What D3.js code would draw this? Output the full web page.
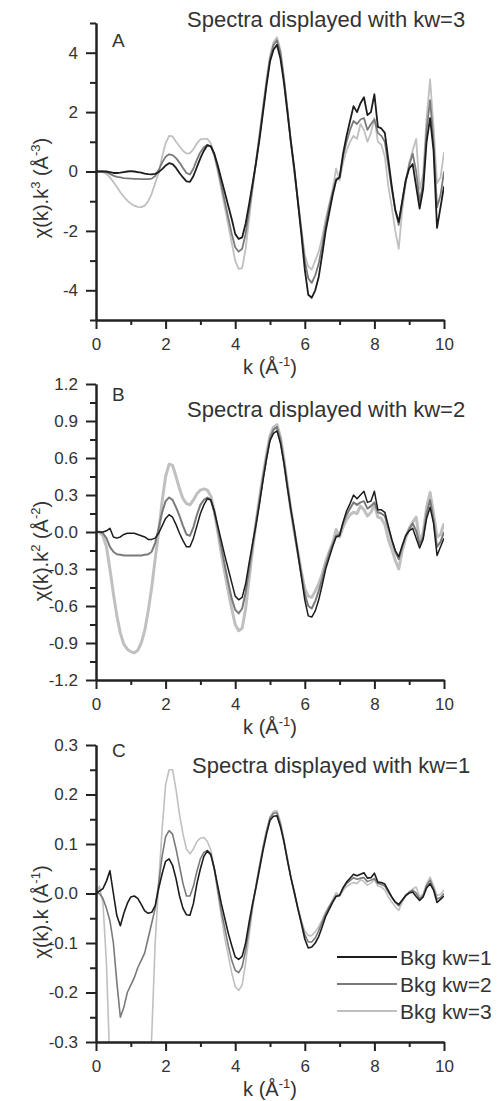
<!DOCTYPE html>
<html>
<head>
<meta charset="utf-8">
<script src="https://cdn.jsdelivr.net/npm/d3@7"></script>
<style>
  body { margin: 0; background: #fff; }
  svg text { font-family: "Liberation Sans", Arial, sans-serif; fill: #333; }
</style>
</head>
<body>
<svg id="chart" width="497" height="1101"></svg>
<script>
// Photoelectron wave number grid, k (Å^-1)
const kGrid = [
  0.0,0.1,0.2,0.3,0.4,0.5,0.6,0.7,0.8,0.9,
  1.0,1.1,1.2,1.3,1.4,1.5,1.6,1.7,1.8,1.9,
  2.0,2.1,2.2,2.3,2.4,2.5,2.6,2.7,2.8,2.9,
  3.0,3.1,3.2,3.3,3.4,3.5,3.6,3.7,3.8,3.9,
  4.0,4.1,4.2,4.3,4.4,4.5,4.6,4.7,4.8,4.9,
  5.0,5.1,5.2,5.3,5.4,5.5,5.6,5.7,5.8,5.9,
  6.0,6.1,6.2,6.3,6.4,6.5,6.6,6.7,6.8,6.9,
  7.0,7.1,7.2,7.3,7.4,7.5,7.6,7.7,7.8,7.9,
  8.0,8.1,8.2,8.3,8.4,8.5,8.6,8.7,8.8,8.9,
  9.0,9.1,9.2,9.3,9.4,9.5,9.6,9.7,9.8,9.9,
  10.0
];

// chi(k)*k^3, background removed with kw = 1, 2, 3
const k3Bkg1 = [
  0,0,0,0,-0.02,-0.05,-0.05,-0.04,-0.02,0,
  0.01,0,-0.02,-0.04,-0.07,-0.09,-0.1,-0.08,-0.02,0.08,
  0.2,0.28,0.25,0.12,-0.05,-0.2,-0.33,-0.35,-0.15,0.15,
  0.45,0.7,0.88,0.85,0.6,0.2,-0.25,-0.7,-1.15,-1.6,
  -2.1,-2.27,-2.22,-1.75,-1.1,-0.4,0.3,1.1,2.0,2.9,
  3.7,4.1,4.27,3.8,3.0,2.0,1.0,0.1,-1.0,-2.1,
  -3.3,-4.15,-4.25,-4.0,-3.55,-2.8,-2.0,-1.4,-0.8,-0.3,
  -0.2,0.6,1.2,1.7,2.2,2.0,2.3,2.5,1.9,2.0,
  2.6,1.5,1.45,1.3,0.4,-0.5,-1.3,-1.7,-1.0,-0.3,
  0.1,0.25,-0.5,-1.25,-0.6,1.0,1.8,0.7,-1.9,-1.2,
  -0.5
];
const k3Bkg2 = [
  0,0,0,-0.02,-0.08,-0.14,-0.18,-0.2,-0.22,-0.23,
  -0.24,-0.25,-0.25,-0.26,-0.26,-0.26,-0.24,-0.15,0.05,0.3,
  0.5,0.58,0.55,0.45,0.3,0.12,-0.05,-0.1,0.1,0.4,
  0.65,0.82,0.9,0.85,0.55,0.1,-0.45,-1.0,-1.55,-2.1,
  -2.55,-2.7,-2.6,-2.1,-1.3,-0.5,0.35,1.2,2.1,3.0,
  3.8,4.25,4.42,4.0,3.1,2.1,1.0,0.0,-1.0,-2.0,
  -3.0,-3.6,-3.75,-3.5,-3.1,-2.5,-1.8,-1.2,-0.7,-0.25,
  -0.2,0.5,1.0,1.4,1.7,1.6,1.75,1.8,1.4,1.6,
  1.75,1.3,1.2,1.0,0.2,-0.6,-1.3,-1.8,-1.0,-0.3,
  0.2,0.6,0.0,-1.0,-0.4,1.4,2.4,1.0,-1.2,-0.8,
  0.0
];
const k3Bkg3 = [
  0,0,-0.02,-0.08,-0.2,-0.35,-0.52,-0.7,-0.85,-0.98,
  -1.08,-1.15,-1.19,-1.2,-1.15,-1.0,-0.75,-0.4,-0.05,0.5,
  0.95,1.2,1.18,1.0,0.85,0.7,0.6,0.62,0.75,0.95,
  1.08,1.1,1.1,0.95,0.55,0.0,-0.6,-1.2,-1.8,-2.4,
  -3.0,-3.28,-3.25,-2.6,-1.6,-0.6,0.35,1.3,2.2,3.1,
  3.9,4.35,4.52,4.1,3.2,2.1,1.0,0.0,-0.95,-1.9,
  -2.8,-3.2,-3.3,-3.0,-2.7,-2.2,-1.6,-1.1,-0.6,0.1,
  -0.3,0.3,0.7,1.0,1.2,1.1,1.6,1.4,1.0,1.3,
  1.8,1.0,0.9,0.5,-0.5,-1.2,-2.0,-2.6,-1.3,-0.4,
  0.3,0.7,1.1,-0.6,-0.1,1.8,3.1,1.5,-0.4,-0.2,
  0.65
];

// chi(k)*k^2
const k2Bkg1 = [
  0,0,0,0.01,0.03,-0.04,-0.05,-0.04,-0.02,-0.01,
  -0.01,-0.01,-0.02,-0.03,-0.04,-0.06,-0.06,-0.05,-0.01,0.05,
  0.11,0.14,0.12,0.06,-0.01,-0.07,-0.12,-0.12,-0.05,0.05,
  0.15,0.22,0.27,0.26,0.17,0.05,-0.07,-0.19,-0.3,-0.41,
  -0.52,-0.55,-0.53,-0.42,-0.25,-0.09,0.06,0.23,0.42,0.59,
  0.74,0.8,0.82,0.72,0.56,0.36,0.18,0.02,-0.17,-0.36,
  -0.55,-0.68,-0.69,-0.64,-0.55,-0.43,-0.3,-0.21,-0.12,-0.04,
  -0.03,0.08,0.17,0.23,0.3,0.27,0.3,0.33,0.24,0.25,
  0.33,0.18,0.18,0.16,0.05,-0.06,-0.15,-0.2,-0.11,-0.03,
  0.01,0.03,-0.05,-0.13,-0.06,0.11,0.2,0.07,-0.19,-0.12,
  -0.05
];
const k2Bkg2 = [
  0,0,-0.01,-0.05,-0.12,-0.16,-0.18,-0.185,-0.19,-0.19,
  -0.19,-0.19,-0.19,-0.19,-0.185,-0.18,-0.16,-0.09,0.03,0.16,
  0.25,0.28,0.26,0.2,0.13,0.05,-0.02,-0.03,0.04,0.14,
  0.22,0.26,0.28,0.26,0.16,0.03,-0.12,-0.27,-0.41,-0.54,
  -0.63,-0.66,-0.62,-0.49,-0.3,-0.11,0.08,0.26,0.44,0.61,
  0.76,0.83,0.85,0.75,0.57,0.38,0.18,0.0,-0.17,-0.34,
  -0.5,-0.6,-0.62,-0.56,-0.48,-0.38,-0.27,-0.18,-0.1,-0.03,
  -0.02,0.07,0.14,0.19,0.24,0.22,0.24,0.25,0.19,0.21,
  0.24,0.16,0.15,0.13,0.03,-0.07,-0.16,-0.22,-0.12,-0.03,
  0.02,0.07,0.01,-0.1,-0.04,0.15,0.26,0.1,-0.12,-0.08,
  0.0
];
const k2Bkg3 = [
  0,0,-0.03,-0.12,-0.3,-0.5,-0.68,-0.82,-0.91,-0.95,
  -0.97,-0.98,-0.96,-0.9,-0.8,-0.64,-0.45,-0.22,0.0,0.25,
  0.45,0.55,0.54,0.45,0.35,0.27,0.23,0.22,0.26,0.31,
  0.34,0.35,0.34,0.29,0.17,0.0,-0.17,-0.33,-0.48,-0.62,
  -0.75,-0.8,-0.78,-0.62,-0.38,-0.14,0.08,0.28,0.46,0.63,
  0.78,0.85,0.87,0.77,0.59,0.38,0.18,0.0,-0.16,-0.32,
  -0.46,-0.52,-0.53,-0.48,-0.42,-0.34,-0.24,-0.16,-0.09,0.02,
  -0.04,0.04,0.1,0.14,0.16,0.15,0.21,0.18,0.13,0.16,
  0.22,0.12,0.11,0.06,-0.06,-0.14,-0.23,-0.3,-0.15,-0.05,
  0.03,0.08,0.12,-0.07,-0.01,0.2,0.32,0.15,-0.04,-0.02,
  0.07
];

// chi(k)*k
const k1Bkg1 = [
  0,0.005,0.01,0.025,0.046,0.0,-0.045,-0.065,-0.04,-0.02,
  -0.007,-0.005,-0.01,-0.022,-0.035,-0.04,-0.038,-0.025,0.01,0.04,
  0.065,0.07,0.057,0.03,-0.005,-0.03,-0.043,-0.044,-0.02,0.02,
  0.05,0.075,0.086,0.078,0.05,0.015,-0.02,-0.05,-0.08,-0.105,
  -0.128,-0.133,-0.127,-0.1,-0.058,-0.02,0.013,0.05,0.087,0.12,
  0.148,0.156,0.157,0.135,0.105,0.067,0.032,0.003,-0.03,-0.06,
  -0.092,-0.11,-0.108,-0.1,-0.087,-0.067,-0.046,-0.032,-0.018,-0.006,
  -0.004,0.012,0.023,0.031,0.039,0.036,0.039,0.042,0.031,0.032,
  0.041,0.023,0.022,0.019,0.006,-0.007,-0.017,-0.022,-0.013,-0.004,
  0.001,0.003,-0.006,-0.014,-0.007,0.011,0.02,0.007,-0.018,-0.012,
  -0.005
];
const k1Bkg2 = [
  0,0.0,-0.01,-0.03,-0.055,-0.1,-0.18,-0.25,-0.23,-0.2,
  -0.185,-0.17,-0.15,-0.135,-0.12,-0.09,-0.06,-0.03,0.02,0.075,
  0.115,0.127,0.12,0.09,0.055,0.02,-0.005,-0.005,0.015,0.045,
  0.07,0.083,0.087,0.08,0.05,0.008,-0.035,-0.07,-0.105,-0.135,
  -0.155,-0.16,-0.148,-0.115,-0.07,-0.025,0.017,0.055,0.092,0.125,
  0.152,0.162,0.163,0.14,0.106,0.07,0.033,0.0,-0.03,-0.058,
  -0.083,-0.098,-0.098,-0.09,-0.075,-0.058,-0.041,-0.027,-0.015,-0.004,
  -0.003,0.01,0.02,0.026,0.032,0.029,0.031,0.032,0.024,0.027,
  0.03,0.02,0.018,0.015,0.003,-0.008,-0.018,-0.025,-0.014,-0.004,
  0.002,0.007,0.001,-0.011,-0.004,0.016,0.027,0.01,-0.011,-0.008,
  0.0
];
const k1Bkg3 = [
  0,0.015,-0.02,-0.14,-0.35,-0.6,-0.9,-1.0,-1.0,-0.95,
  -0.9,-0.8,-0.7,-0.6,-0.5,-0.4,-0.29,-0.1,0.02,0.13,
  0.22,0.25,0.25,0.21,0.16,0.12,0.09,0.08,0.09,0.105,
  0.112,0.113,0.105,0.088,0.05,0.0,-0.045,-0.09,-0.125,-0.16,
  -0.188,-0.196,-0.185,-0.14,-0.085,-0.03,0.017,0.058,0.095,0.128,
  0.155,0.166,0.167,0.145,0.11,0.07,0.032,0.0,-0.028,-0.054,
  -0.076,-0.085,-0.085,-0.077,-0.067,-0.053,-0.037,-0.025,-0.013,0.002,
  -0.006,0.006,0.014,0.019,0.022,0.02,0.028,0.024,0.017,0.021,
  0.028,0.015,0.013,0.007,-0.007,-0.017,-0.027,-0.034,-0.017,-0.005,
  0.004,0.009,0.013,-0.007,-0.001,0.02,0.033,0.016,-0.004,-0.002,
  0.007
];

// Axis ticks and their labels
const xMajorTicks = [0, 2, 4, 6, 8, 10];
const xMinorTicks = [1, 3, 5, 7, 9];
const yMajorA = [-4, -2, 0, 2, 4];
const yLabelsA = ["-4", "-2", "0", "2", "4"];
const yMinorA = [-5, -3, -1, 1, 3, 5];
const yMajorB = [-1.2, -0.9, -0.6, -0.3, 0, 0.3, 0.6, 0.9, 1.2];
const yLabelsB = ["-1.2", "-0.9", "-0.6", "-0.3", "0.0", "0.3", "0.6", "0.9", "1.2"];
const yMinorB = [-1.05, -0.75, -0.45, -0.15, 0.15, 0.45, 0.75, 1.05];
const yMajorC = [-0.3, -0.2, -0.1, 0, 0.1, 0.2, 0.3];
const yLabelsC = ["-0.3", "-0.2", "-0.1", "0.0", "0.1", "0.2", "0.3"];
const yMinorC = [-0.25, -0.15, -0.05, 0.05, 0.15, 0.25];

const seriesNames = ["Bkg kw=1", "Bkg kw=2", "Bkg kw=3"];
const seriesColors = ["#1c1c1c", "#7a7a7a", "#c0c0c0"];

const svg = d3.select("#chart");
const plotLeft = 96, plotRight = 444;
const x = d3.scaleLinear().domain([0, 10]).range([plotLeft, plotRight]);

const panels = [
  { id: "A", top: 23, bottom: 320, domain: [-5, 5],
    major: yMajorA, labels: yLabelsA, minor: yMinorA,
    series: [k3Bkg1, k3Bkg2, k3Bkg3], widths: [1.8, 1.8, 1.8],
    title: "Spectra displayed with kw=3", titleX: 187, titleY: 27,
    letterY: 47, ylabelY: 188, power: "3", unitPower: "-3" },
  { id: "B", top: 384, bottom: 680, domain: [-1.2, 1.2],
    major: yMajorB, labels: yLabelsB, minor: yMinorB,
    series: [k2Bkg1, k2Bkg2, k2Bkg3], widths: [1.5, 2.0, 3.0],
    title: "Spectra displayed with kw=2", titleX: 187, titleY: 417,
    letterY: 401, ylabelY: 551, power: "2", unitPower: "-2" },
  { id: "C", top: 745, bottom: 1042, domain: [-0.3, 0.3],
    major: yMajorC, labels: yLabelsC, minor: yMinorC,
    series: [k1Bkg1, k1Bkg2, k1Bkg3], widths: [1.6, 1.6, 1.6],
    title: "Spectra displayed with kw=1", titleX: 192, titleY: 773,
    letterY: 757, ylabelY: 912, power: "", unitPower: "-1" }
];

function styleAxis(g) {
  g.select(".domain").attr("stroke", "#222").attr("stroke-width", 2);
  g.selectAll(".tick line").attr("stroke", "#222").attr("stroke-width", 2);
  g.selectAll(".tick text").attr("font-size", 17).attr("fill", "#333")
    .attr("font-family", "'Liberation Sans', Arial, sans-serif");
}

panels.forEach(p => {
  const y = d3.scaleLinear().domain(p.domain).range([p.bottom, p.top]);
  const g = svg.append("g");

  g.append("clipPath").attr("id", "clip" + p.id)
    .append("rect")
    .attr("x", plotLeft).attr("y", p.top)
    .attr("width", plotRight - plotLeft).attr("height", p.bottom - p.top);

  const line = d3.line()
    .x((d, i) => x(kGrid[i]))
    .y(d => y(d));

  // lighter curves underneath, darkest on top
  const lines = g.append("g").attr("clip-path", `url(#clip${p.id})`);
  [2, 1, 0].forEach(s => {
    lines.append("path")
      .datum(p.series[s])
      .attr("fill", "none")
      .attr("stroke", seriesColors[s])
      .attr("stroke-width", p.widths[s])
      .attr("stroke-linejoin", "round")
      .attr("d", line);
  });

  // y axis
  g.append("g").attr("transform", `translate(${plotLeft},0)`)
    .call(d3.axisLeft(y).tickValues(p.minor).tickFormat("").tickSize(6).tickSizeOuter(0))
    .call(styleAxis);
  g.append("g").attr("transform", `translate(${plotLeft},0)`)
    .call(d3.axisLeft(y).tickValues(p.major).tickFormat((d, i) => p.labels[i])
      .tickSize(10).tickPadding(8).tickSizeOuter(0))
    .call(styleAxis);

  // x axis
  g.append("g").attr("transform", `translate(0,${p.bottom})`)
    .call(d3.axisBottom(x).tickValues(xMinorTicks).tickFormat("").tickSize(5).tickSizeOuter(0))
    .call(styleAxis);
  g.append("g").attr("transform", `translate(0,${p.bottom})`)
    .call(d3.axisBottom(x).tickValues(xMajorTicks).tickFormat(d => String(d))
      .tickSize(9).tickPadding(9).tickSizeOuter(0))
    .call(styleAxis);

  // x axis title
  const xt = g.append("text")
    .attr("x", (plotLeft + plotRight) / 2).attr("y", p.bottom + 54)
    .attr("text-anchor", "middle").attr("font-size", 20);
  xt.append("tspan").text("k (Å");
  xt.append("tspan").attr("dy", -8).attr("font-size", 13).text("-1");
  xt.append("tspan").attr("dy", 8).text(")");

  // y axis title
  const yt = g.append("text")
    .attr("transform", `translate(48,${p.ylabelY}) rotate(-90)`)
    .attr("text-anchor", "middle").attr("font-size", 20);
  yt.append("tspan").text("χ(k).k");
  if (p.power) {
    yt.append("tspan").attr("dy", -8).attr("font-size", 13).text(p.power);
    yt.append("tspan").attr("dy", 8).text(" (Å");
  } else {
    yt.append("tspan").text(" (Å");
  }
  yt.append("tspan").attr("dy", -8).attr("font-size", 13).text(p.unitPower);
  yt.append("tspan").attr("dy", 8).text(")");

  // panel letter and title
  g.append("text").attr("x", 112).attr("y", p.letterY)
    .attr("font-size", 19).text(p.id);
  g.append("text").attr("x", p.titleX).attr("y", p.titleY)
    .attr("font-size", 22).text(p.title);
});

// legend in the bottom panel
const legendRows = [957, 984, 1011];
const legend = svg.append("g");
seriesNames.forEach((name, i) => {
  legend.append("line")
    .attr("x1", 337).attr("x2", 397)
    .attr("y1", legendRows[i]).attr("y2", legendRows[i])
    .attr("stroke", seriesColors[i]).attr("stroke-width", 2);
  legend.append("text")
    .attr("x", 400).attr("y", legendRows[i]).attr("dy", "0.36em")
    .attr("font-size", 21).text(name);
});
</script>
</body>
</html>
